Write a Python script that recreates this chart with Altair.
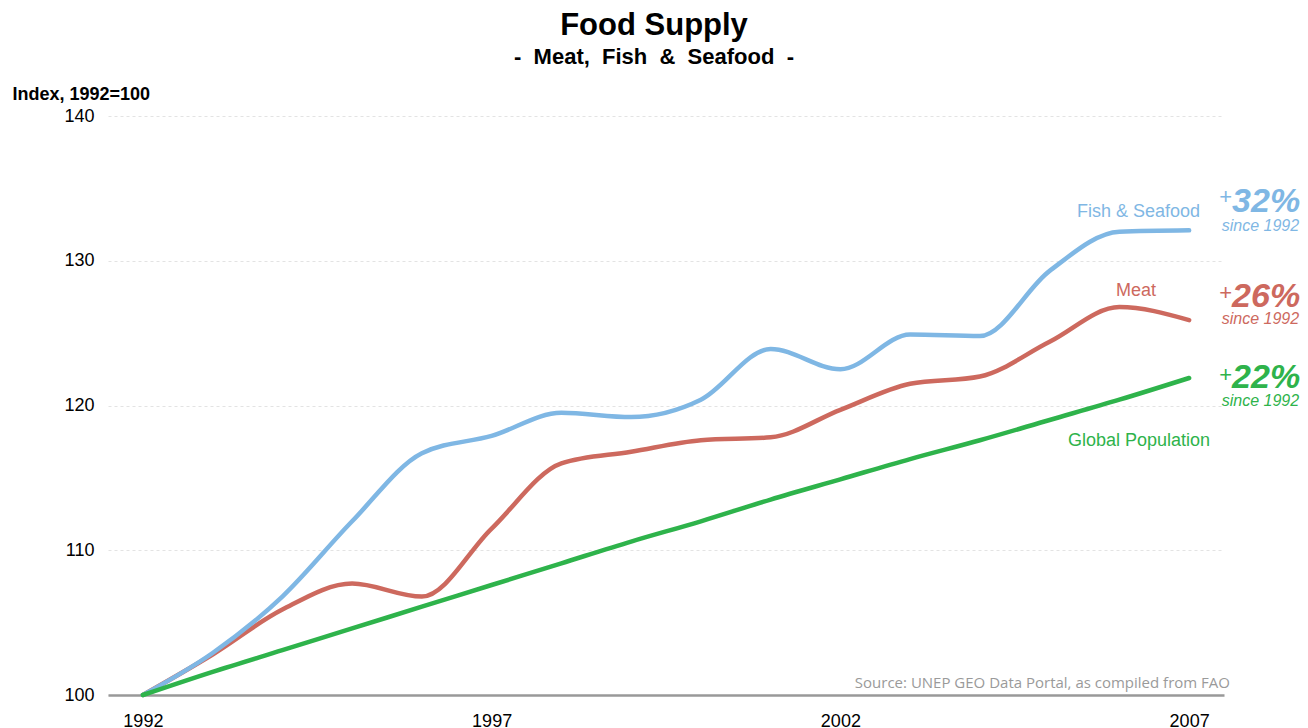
import altair as alt
import pandas as pd

# ---- data ----
years = list(range(1992, 2008))
fish = [100, 102.9, 106.8, 112.0, 116.7, 117.9, 119.5, 119.2, 120.4, 123.9, 122.5, 124.9, 124.8, 129.3, 132.0, 132.1]
meat = [100, 102.8, 105.9, 107.7, 106.8, 111.5, 116.0, 116.8, 117.6, 117.8, 119.7, 121.5, 122.0, 124.4, 126.8, 125.9]
population = [100, 101.6, 103.1, 104.6, 106.1, 107.6, 109.1, 110.6, 112.0, 113.5, 114.9, 116.3, 117.6, 119.0, 120.4, 121.9]

series_names = ["Meat", "Fish & Seafood", "Global Population"]
series_values = [meat, fish, population]
series_colors = ["#cd695e", "#7fb7e4", "#2eb34b"]
pct_labels = ["26%", "32%", "22%"]
since_label = "since 1992"
x_ticks = [1992, 1997, 2002, 2007]
y_ticks = [100, 110, 120, 130, 140]
source_text = "Source: UNEP GEO Data Portal, as compiled from FAO"
NB = "\u00a0"
subtitle_text = f"-{NB} Meat,{NB} Fish{NB} &{NB} Seafood{NB} -"

rows = []
for name, vals in zip(series_names, series_values):
    for yr, v in zip(years, vals):
        rows.append({"series": name, "year": yr, "value": v})
df = pd.DataFrame(rows)

W, H = 1116, 579
FONT = "Liberation Sans"

xscale = alt.Scale(domain=[1991.5, 2007.5], nice=False, zero=False)
yscale = alt.Scale(domain=[100, 140], nice=False, zero=False)


def X():
    return alt.X("year:Q", scale=xscale, axis=alt.Axis(
        values=x_ticks, format="d", title=None, grid=False, ticks=False,
        domain=True, domainColor="#999999", domainWidth=2.5,
        labelFontSize=18, labelFont=FONT, labelColor="#000000", labelPadding=17,
        labelFlush=False))


def Y():
    return alt.Y("value:Q", scale=yscale, axis=alt.Axis(
        values=y_ticks, title="Index, 1992=100", titleAngle=0, titleAlign="left",
        titleBaseline="alphabetic", titleX=-96, titleY=-17, titleFontSize=18,
        titleFont=FONT, titleFontWeight="bold", titleColor="#000000",
        grid=True, gridColor="#e3e3e3", gridDash=[3, 3], gridWidth=1,
        domain=False, ticks=False, labelFontSize=18, labelFont=FONT,
        labelColor="#000000", labelPadding=14))


layers = []
for name, col in zip(series_names, series_colors):
    layers.append(
        alt.Chart(df).transform_filter(alt.datum.series == name)
        .mark_line(interpolate="monotone", strokeWidth=4.5, strokeCap="round", color=col)
        .encode(x=X(), y=Y())
    )

# label offsets (pixels) relative to each series' 2007 end point
name_off = {"Fish & Seafood": (11, -13), "Meat": (-33, -24), "Global Population": (21, 68)}
plus_off = {"Fish & Seafood": -26, "Meat": -20, "Global Population": 4}
pct_off = {"Fish & Seafood": -18, "Meat": -13, "Global Population": 10}
since_off = {"Fish & Seafood": 1, "Meat": 4, "Global Population": 28}

for name, vals, col, pct in zip(series_names, series_values, series_colors, pct_labels):
    end = pd.DataFrame({"year": [years[-1]], "value": [vals[-1]], "name": [name],
                        "pct": [pct], "plus": ["+"], "since": [since_label]})
    b = alt.Chart(end).encode(x=X(), y=Y())
    dx, dy = name_off[name]
    layers.append(b.mark_text(align="right", baseline="alphabetic", dx=dx, dy=dy,
                              fontSize=18, font=FONT, color=col).encode(text="name:N"))
    layers.append(b.mark_text(align="right", baseline="alphabetic", dx=43, dy=plus_off[name],
                              fontSize=22, font=FONT, color=col).encode(text="plus:N"))
    layers.append(b.mark_text(align="right", baseline="alphabetic", dx=111, dy=pct_off[name],
                              fontSize=34, font=FONT, fontWeight="bold", fontStyle="italic",
                              color=col).encode(text="pct:N"))
    layers.append(b.mark_text(align="right", baseline="alphabetic", dx=110, dy=since_off[name],
                              fontSize=16, font=FONT, fontStyle="italic",
                              color=col).encode(text="since:N"))

src = pd.DataFrame({"t": [source_text]})
layers.append(alt.Chart(src).mark_text(align="right", baseline="alphabetic", fontSize=15,
                                       font="Open Sans", color="#9a9a9a")
              .encode(x=alt.value(W + 6), y=alt.value(H - 7), text="t:N"))

chart = alt.layer(*layers).properties(
    width=W, height=H,
    padding={"left": 100, "top": 108, "right": 76, "bottom": 33},
    autosize=alt.AutoSizeParams(type="none"),
    title=alt.TitleParams(
        text="Food Supply", subtitle=subtitle_text,
        anchor="middle", frame="group", dx=-12, offset=16,
        font=FONT, fontSize=31, fontWeight="bold", color="#000000",
        subtitleFont=FONT, subtitleFontSize=22, subtitleFontWeight="bold",
        subtitleColor="#000000", subtitlePadding=5),
).configure(background="#ffffff").configure_view(strokeWidth=0, stroke="transparent")

chart.save("out.html", embed_options={"renderer": "svg", "actions": False})
